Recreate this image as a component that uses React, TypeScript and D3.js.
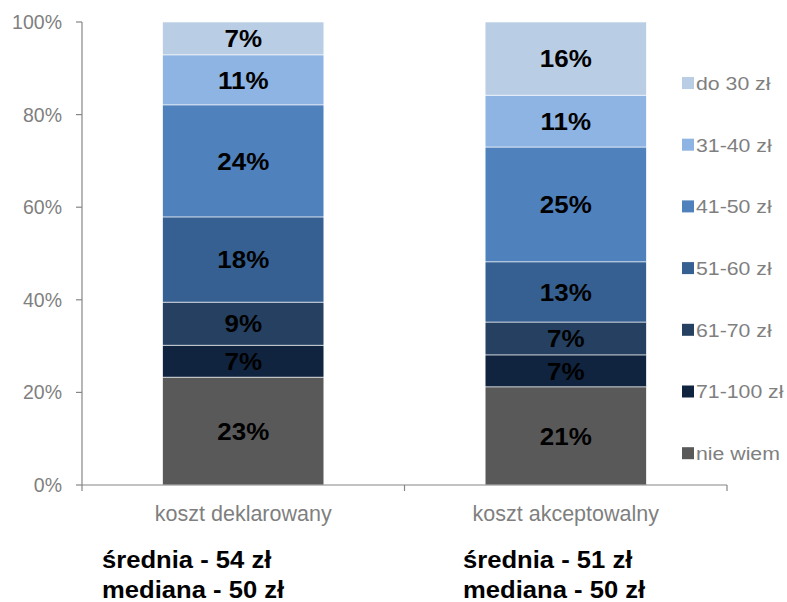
import React from "react";
import * as d3 from "d3";

const categories = ["koszt deklarowany", "koszt akceptowalny"];
const seriesNames = ["nie wiem", "71-100 zł", "61-70 zł", "51-60 zł", "41-50 zł", "31-40 zł", "do 30 zł"];
const seriesColors = ["#595959", "#10243F", "#254061", "#376092", "#4F81BD", "#8EB4E3", "#B9CDE5"];
// values per category, bottom to top (percent)
const valuesDeklarowany = [23.3, 6.9, 9.3, 18.4, 24.2, 10.8, 7.1];
const valuesAkceptowalny = [21.2, 6.9, 7.1, 13.0, 24.8, 11.2, 15.8];
const yTicks = [0, 20, 40, 60, 80, 100];
const notes = [
  ["średnia - 54 zł", "mediana - 50 zł"],
  ["średnia - 51 zł", "mediana - 50 zł"],
];

const W = 787;
const H = 602;
const font = "'Liberation Sans', Arial, sans-serif";

type TProps = {
  x: number;
  y: number;
  sx?: number;
  size: number;
  anchor?: "start" | "middle" | "end";
  bold?: boolean;
  fill: string;
  dy?: string;
  children: React.ReactNode;
};

function T({ x, y, sx = 1, size, anchor = "start", bold, fill, dy, children }: TProps) {
  return (
    <text
      transform={`translate(${x},${y}) scale(${sx},1)`}
      dy={dy}
      textAnchor={anchor}
      fontFamily={font}
      fontWeight={bold ? "bold" : "normal"}
      fontSize={size}
      fill={fill}
    >
      {children}
    </text>
  );
}

export default function App() {
  const left = 82;
  const right = 727;
  const top = 22;
  const bottom = 485;
  const y = d3.scaleLinear().domain([0, 100]).range([bottom, top]);
  const x = d3.scaleBand().domain(categories).range([left, right]).paddingInner(0).paddingOuter(0);
  const barW = x.bandwidth() * 0.5;
  const allValues = [valuesDeklarowany, valuesAkceptowalny];

  const stacks = allValues.map((vals) => {
    let acc = 0;
    return vals.map((v, i) => {
      const s = { y0: acc, y1: acc + v, v, i };
      acc += v;
      return s;
    });
  });

  const legendTop = 83;
  const legendStep = 61.7;
  const legendOrder = seriesNames.map((_, i) => seriesNames.length - 1 - i);

  return (
    <svg width={W} height={H} style={{ position: "absolute", left: 0, top: 0, background: "#fff" }}>
      {stacks.map((stack, ci) => {
        const cx = (x(categories[ci]) as number) + x.bandwidth() / 2;
        return (
          <g key={ci}>
            {stack.map((s) => (
              <g key={s.i}>
                <rect
                  x={cx - barW / 2}
                  y={y(s.y1)}
                  width={barW}
                  height={y(s.y0) - y(s.y1)}
                  fill={seriesColors[s.i]}
                  stroke="#ffffff"
                  strokeWidth={0.6}
                />
                <T
                  x={cx}
                  y={(y(s.y0) + y(s.y1)) / 2}
                  dy="0.36em"
                  anchor="middle"
                  bold
                  size={24.5}
                  sx={1.06}
                  fill="#000"
                >
                  {Math.round(s.v)}%
                </T>
              </g>
            ))}
          </g>
        );
      })}
      {/* y axis */}
      <line x1={left} x2={left} y1={top} y2={bottom} stroke="#868686" strokeWidth={1.2} />
      {yTicks.map((t) => (
        <g key={t}>
          <line x1={left - 6} x2={left} y1={y(t)} y2={y(t)} stroke="#868686" strokeWidth={1.2} />
          <T x={left - 20} y={y(t)} dy="0.36em" anchor="end" size={19.5} fill="#7F7F7F">
            {t}%
          </T>
        </g>
      ))}
      {/* x axis */}
      <line x1={left} x2={right} y1={bottom} y2={bottom} stroke="#868686" strokeWidth={1.2} />
      {[left, left + x.bandwidth(), right].map((tx, i) => (
        <line key={i} x1={tx} x2={tx} y1={bottom} y2={bottom + 6} stroke="#868686" strokeWidth={1.2} />
      ))}
      {categories.map((c) => (
        <T key={c} x={(x(c) as number) + x.bandwidth() / 2} y={521} anchor="middle" size={21.5} fill="#7F7F7F">
          {c}
        </T>
      ))}
      {/* notes */}
      {notes.map((lines, ci) => (
        <g key={ci}>
          {lines.map((l, li) => (
            <T key={li} x={ci === 0 ? 102 : 463} y={568 + li * 30} bold size={23.5} sx={1.09} fill="#000">
              {l}
            </T>
          ))}
        </g>
      ))}
      {/* legend */}
      {legendOrder.map((si, k) => {
        const ly = legendTop + k * legendStep;
        return (
          <g key={si}>
            <rect x={682} y={ly - 6} width={12} height={12} fill={seriesColors[si]} />
            <T x={696} y={ly} dy="0.36em" size={19} sx={1.12} fill="#7F7F7F">
              {seriesNames[si]}
            </T>
          </g>
        );
      })}
    </svg>
  );
}
